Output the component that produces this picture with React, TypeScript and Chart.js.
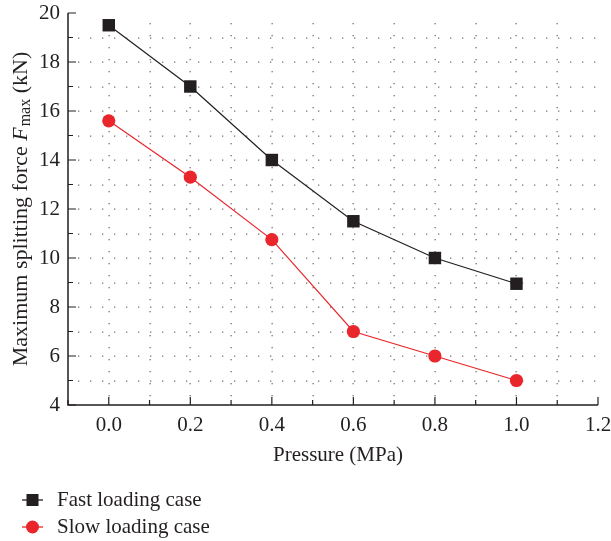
import React, { useEffect, useRef } from 'react';
import { Chart, registerables } from 'chart.js';

Chart.register(...registerables);

const pressures = [0, 0.2, 0.4, 0.6, 0.8, 1.0];
const fastLoading = [19.5, 17.0, 14.0, 11.5, 10.0, 8.95];
const slowLoading = [15.6, 13.3, 10.75, 7.0, 6.0, 5.0];
const seriesNames = ['Fast loading case', 'Slow loading case'];
const xTitle = 'Pressure (MPa)';
const yTitleParts = ['Maximum splitting force ', 'F', 'max', ' (kN)'];

const FONT = '"Liberation Serif", "Times New Roman", serif';
const AXIS = '#231f20';
const BLACK = '#231f20';
const RED = '#e8262b';

const framePlugin = {
  id: 'frame',
  beforeDatasetsDraw(chart: any) {
    const { ctx, chartArea, scales } = chart;
    const { left, right, top, bottom } = chartArea;
    const x = scales.x;
    const y = scales.y;
    ctx.save();
    // dotted grid
    ctx.fillStyle = 'rgba(70,70,70,0.75)';
    for (let i = 1; i <= 12; i++) {
      const v = -0.1 + i * 0.1;
      const px = Math.round(x.getPixelForValue(v));
      for (let yy = bottom - 10; yy > top + 2; yy -= 12) ctx.fillRect(px - 0.5, yy, 1.3, 1.3);
    }
    for (let v = 5; v <= 19; v++) {
      const py = Math.round(y.getPixelForValue(v));
      for (let xx = left + 10; xx < right - 2; xx += 12) ctx.fillRect(xx, py - 0.5, 1.3, 1.3);
    }
    // axes
    ctx.strokeStyle = AXIS;
    ctx.lineWidth = 1.5;
    ctx.beginPath();
    ctx.moveTo(left, top);
    ctx.lineTo(left, bottom);
    ctx.lineTo(right, bottom);
    ctx.stroke();
    // ticks inward
    ctx.lineWidth = 1.2;
    ctx.beginPath();
    for (let v = 4; v <= 20; v++) {
      const py = y.getPixelForValue(v);
      const len = v % 2 === 0 ? 8 : 5;
      ctx.moveTo(left, py);
      ctx.lineTo(left + len, py);
    }
    for (let i = 0; i <= 13; i++) {
      const v = -0.1 + i * 0.1;
      const px = x.getPixelForValue(v);
      const len = i % 2 === 1 ? 8 : 5;
      ctx.moveTo(px, bottom);
      ctx.lineTo(px, bottom - len);
    }
    ctx.stroke();
    ctx.restore();
  },
  afterDraw(chart: any) {
    const { ctx, chartArea } = chart;
    const { left, right } = chartArea;
    ctx.save();
    ctx.fillStyle = AXIS;
    // x title
    ctx.font = `21px ${FONT}`;
    ctx.textAlign = 'center';
    ctx.textBaseline = 'middle';
    ctx.fillText(xTitle, (left + right) / 2 + 5, 455);
    // y title (rotated)
    ctx.translate(21, 209);
    ctx.rotate(-Math.PI / 2);
    ctx.textBaseline = 'middle';
    ctx.textAlign = 'left';
    const normal = `22px ${FONT}`;
    const ital = `italic 22px ${FONT}`;
    const sub = `16px ${FONT}`;
    ctx.font = normal;
    const w0 = ctx.measureText(yTitleParts[0]).width;
    ctx.font = ital;
    const w1 = ctx.measureText(yTitleParts[1]).width + 1;
    ctx.font = sub;
    const w2 = ctx.measureText(yTitleParts[2]).width;
    ctx.font = normal;
    const w3 = ctx.measureText(yTitleParts[3]).width;
    let cx = -(w0 + w1 + w2 + w3) / 2;
    ctx.font = normal;
    ctx.fillText(yTitleParts[0], cx, 0);
    cx += w0;
    ctx.font = ital;
    ctx.fillText(yTitleParts[1], cx, 0);
    cx += w1;
    ctx.font = sub;
    ctx.fillText(yTitleParts[2], cx, 5);
    cx += w2;
    ctx.font = normal;
    ctx.fillText(yTitleParts[3], cx, 0);
    ctx.restore();

    // legend
    ctx.save();
    const rows = [
      { y: 500, color: BLACK, shape: 'rect' },
      { y: 527, color: RED, shape: 'circle' },
    ];
    rows.forEach((r, i) => {
      ctx.strokeStyle = r.color;
      ctx.lineWidth = 1.3;
      ctx.beginPath();
      ctx.moveTo(22, r.y);
      ctx.lineTo(43, r.y);
      ctx.stroke();
      ctx.fillStyle = r.color;
      if (r.shape === 'rect') {
        ctx.fillRect(32.5 - 6, r.y - 6, 12, 12);
      } else {
        ctx.beginPath();
        ctx.arc(32.5, r.y, 6.5, 0, Math.PI * 2);
        ctx.fill();
      }
      ctx.fillStyle = AXIS;
      ctx.font = `21px ${FONT}`;
      ctx.textAlign = 'left';
      ctx.textBaseline = 'middle';
      ctx.fillText(seriesNames[i], 57, r.y);
    });
    ctx.restore();
  },
};

export default function App() {
  const ref = useRef<HTMLCanvasElement | null>(null);
  useEffect(() => {
    document.body.style.margin = '0';
    if (!ref.current) return;
    const chart = new Chart(ref.current, {
      type: 'line',
      data: {
        datasets: [
          {
            label: seriesNames[0],
            data: pressures.map((p, i) => ({ x: p, y: fastLoading[i] })),
            borderColor: BLACK,
            backgroundColor: BLACK,
            borderWidth: 1.2,
            pointStyle: 'rect',
            pointRadius: 8.8,
            pointBorderWidth: 0,
            pointBackgroundColor: BLACK,
          },
          {
            label: seriesNames[1],
            data: pressures.map((p, i) => ({ x: p, y: slowLoading[i] })),
            borderColor: RED,
            backgroundColor: RED,
            borderWidth: 1.2,
            pointStyle: 'circle',
            pointRadius: 6.6,
            pointBorderWidth: 0,
            pointBackgroundColor: RED,
          },
        ],
      },
      options: {
        animation: false,
        responsive: false,
        maintainAspectRatio: false,
        layout: { padding: { left: 0, right: 13, top: 13, bottom: 0 } },
        plugins: { legend: { display: false }, tooltip: { enabled: false } },
        scales: {
          x: {
            type: 'linear',
            min: -0.1,
            max: 1.2,
            grid: { display: false, drawTicks: false },
            border: { display: false },
            afterFit: (s: any) => {
              s.height = 136;
              s.paddingLeft = 0;
              s.paddingRight = 0;
            },
            ticks: {
              stepSize: 0.1,
              padding: 8,
              maxRotation: 0,
              autoSkip: false,
              color: AXIS,
              font: { family: FONT, size: 21 },
              callback: (v: any) => {
                const n = Math.round(Number(v) * 10);
                return n >= 0 && n % 2 === 0 ? (n / 10).toFixed(1) : '';
              },
            },
          },
          y: {
            type: 'linear',
            min: 4,
            max: 20,
            grid: { display: false, drawTicks: false },
            border: { display: false },
            afterFit: (s: any) => {
              s.width = 68;
              s.paddingTop = 0;
              s.paddingBottom = 0;
            },
            ticks: {
              stepSize: 2,
              padding: 8,
              color: AXIS,
              font: { family: FONT, size: 21 },
            },
          },
        },
      },
      plugins: [framePlugin],
    });
    return () => chart.destroy();
  }, []);
  return (
    <div style={{ width: 611, height: 541 }}>
      <canvas ref={ref} width={611} height={541} style={{ display: 'block' }} />
    </div>
  );
}
